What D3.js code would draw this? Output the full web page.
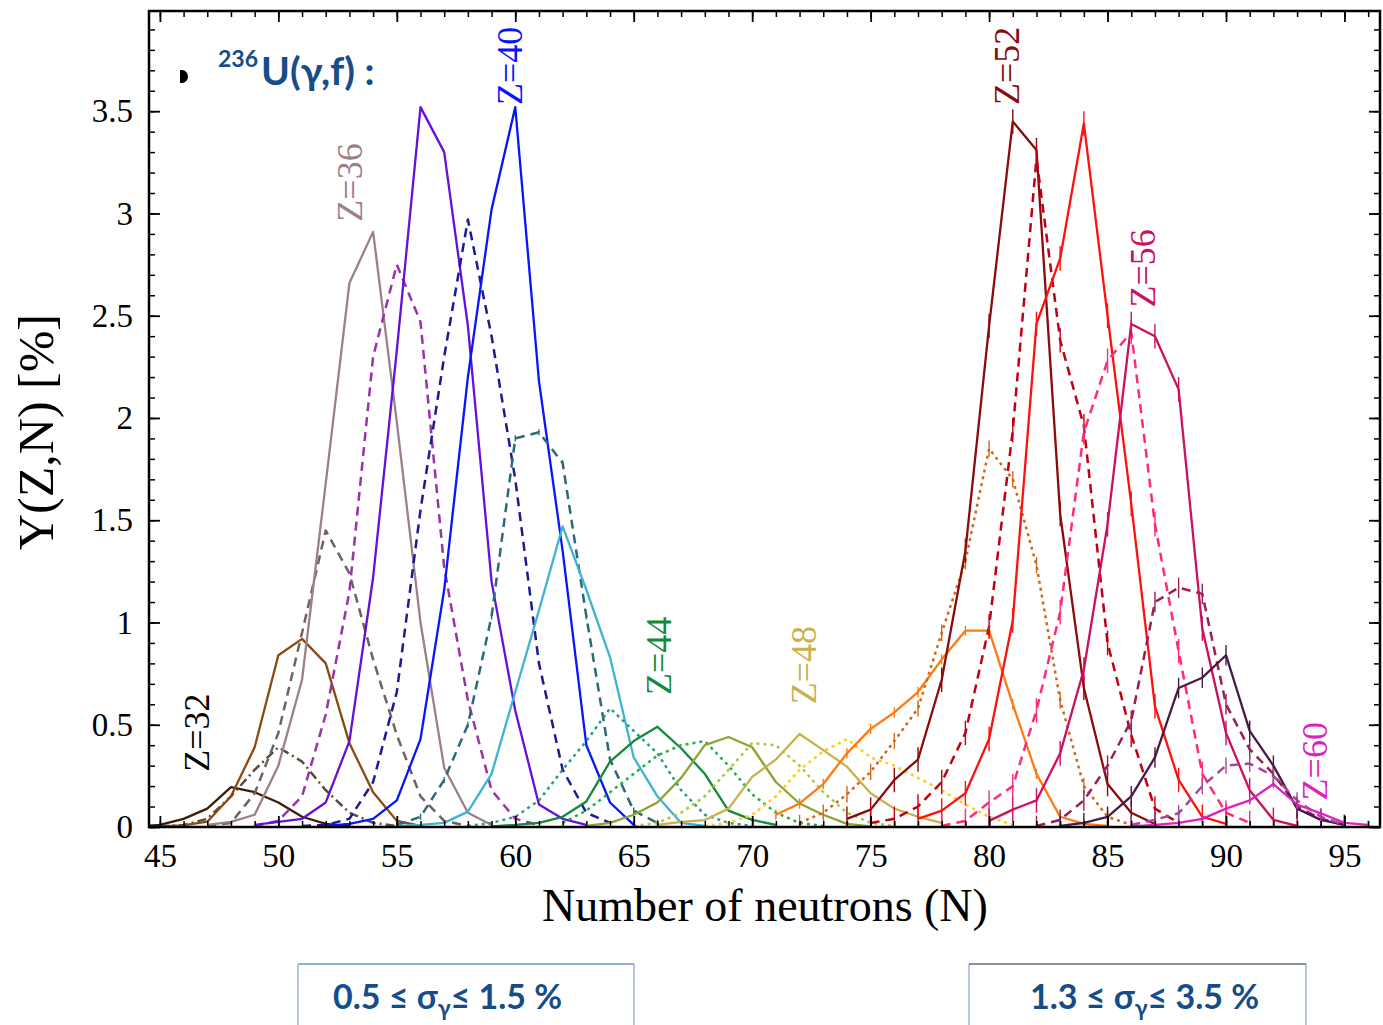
<!DOCTYPE html>
<html>
<head>
<meta charset="utf-8">
<script src="https://cdn.jsdelivr.net/npm/d3@7"></script>
<style>
  html, body { margin: 0; padding: 0; background: #fff; }
  svg { display: block; }
</style>
</head>
<body>
<svg id="chart" width="1383" height="1025"></svg>
<script>
// Isotopic fission yields Y(Z,N) in %, one chain per element.
// Each array starts at the neutron number listed in firstN.
const charges = [32, 33, 34, 35, 36, 37, 38, 39, 40, 41, 42, 43, 44, 45, 46,
                 47, 48, 49, 50, 51, 52, 53, 54, 55, 56, 57, 58, 59, 60];
const firstN  = [44, 45, 45, 47, 47, 49, 49, 51, 52, 55, 55, 58, 59, 62, 63,
                 65, 66, 68, 71, 72, 74, 75, 77, 78, 80, 82, 83, 86, 86];

const Y32 = [0.003, 0.01, 0.04, 0.09, 0.195, 0.17, 0.12, 0.05, 0.015, 0.004];
const Y33 = [0.003, 0.01, 0.04, 0.15, 0.28, 0.39, 0.32, 0.18, 0.07, 0.02, 0.005];
const Y34 = [0.003, 0.008, 0.026, 0.15, 0.39, 0.84, 0.92, 0.8, 0.41, 0.17, 0.03, 0.005];
const Y35 = [0.005, 0.02, 0.165, 0.46, 0.95, 1.45, 1.24, 0.82, 0.45, 0.15, 0.03, 0.005];
const Y36 = [0.01, 0.025, 0.06, 0.3, 0.72, 1.68, 2.66, 2.91, 1.98, 1.0, 0.29, 0.07, 0.01];
const Y37 = [0.005, 0.03, 0.15, 0.55, 1.15, 2.3, 2.75, 2.47, 1.27, 0.62, 0.18, 0.04, 0.01];
const Y38 = [0.01, 0.025, 0.04, 0.12, 0.42, 1.22, 2.33, 3.52, 3.3, 2.45, 1.2, 0.57, 0.11, 0.04, 0.01];
const Y39 = [0.005, 0.01, 0.04, 0.22, 0.66, 1.55, 2.3, 2.97, 2.4, 1.7, 0.8, 0.28, 0.07, 0.02];
const Y40 = [0.005, 0.015, 0.04, 0.13, 0.43, 1.16, 2.2, 3.02, 3.52, 2.18, 1.35, 0.4, 0.12, 0.01];
const Y41 = [0.01, 0.05, 0.23, 0.5, 1.03, 1.9, 1.93, 1.78, 1.03, 0.33, 0.08, 0.02];
const Y42 = [0.005, 0.01, 0.02, 0.075, 0.26, 0.66, 1.06, 1.47, 1.16, 0.83, 0.34, 0.15, 0.02, 0.005];
const Y43 = [0.005, 0.02, 0.05, 0.13, 0.28, 0.42, 0.58, 0.47, 0.36, 0.18, 0.06, 0.02, 0.005];
const Y44 = [0.003, 0.01, 0.02, 0.05, 0.125, 0.32, 0.42, 0.49, 0.385, 0.26, 0.08, 0.035, 0.01];
const Y45 = [0.02, 0.08, 0.17, 0.26, 0.35, 0.4, 0.42, 0.3, 0.16, 0.07, 0.02, 0.005];
const Y46 = [0.005, 0.02, 0.06, 0.12, 0.24, 0.4, 0.44, 0.39, 0.22, 0.115, 0.06, 0.015, 0.003];
const Y47 = [0.005, 0.02, 0.07, 0.15, 0.28, 0.41, 0.4, 0.3, 0.17, 0.07, 0.02, 0.005];
const Y48 = [0.01, 0.025, 0.034, 0.09, 0.245, 0.33, 0.455, 0.376, 0.295, 0.165, 0.09, 0.05, 0.02];
const Y49 = [0.005, 0.02, 0.06, 0.15, 0.28, 0.37, 0.43, 0.34, 0.3, 0.24, 0.18, 0.11, 0.05, 0.01];
const Y50 = [0.06, 0.115, 0.21, 0.36, 0.48, 0.56, 0.66, 0.82, 0.96, 0.96, 0.6, 0.26, 0.05, 0.015, 0.005];
const Y51 = [0.02, 0.07, 0.16, 0.27, 0.42, 0.58, 0.95, 1.3, 1.85, 1.7, 1.28, 0.62, 0.2, 0.05, 0.01];
const Y52 = [0.04, 0.085, 0.23, 0.33, 0.72, 1.35, 2.45, 3.45, 3.31, 1.53, 0.68, 0.21, 0.07, 0.015];
const Y53 = [0.02, 0.04, 0.1, 0.22, 0.46, 0.98, 1.94, 3.27, 2.38, 1.96, 0.9, 0.45, 0.09, 0.02];
const Y54 = [0.04, 0.08, 0.165, 0.43, 1.01, 2.46, 2.78, 3.44, 2.5, 1.58, 0.59, 0.23, 0.05, 0.015];
const Y55 = [0.005, 0.03, 0.12, 0.2, 0.57, 1.05, 1.93, 2.28, 2.42, 1.48, 0.86, 0.26, 0.07, 0.02];
const Y56 = [0.03, 0.085, 0.13, 0.36, 0.77, 1.48, 2.46, 2.4, 2.14, 0.97, 0.46, 0.18, 0.035, 0.005];
const Y57 = [0.005, 0.035, 0.13, 0.3, 0.52, 1.1, 1.17, 1.14, 0.6, 0.38, 0.26, 0.1, 0.04, 0.01];
const Y58 = [0.005, 0.02, 0.05, 0.15, 0.34, 0.68, 0.73, 0.84, 0.47, 0.3, 0.09, 0.035, 0.01];
const Y59 = [0.01, 0.035, 0.067, 0.2, 0.3, 0.31, 0.25, 0.13, 0.05, 0.01];
const Y60 = [0.003, 0.01, 0.02, 0.04, 0.09, 0.13, 0.21, 0.11, 0.067, 0.02, 0.01];

const yields = [Y32, Y33, Y34, Y35, Y36, Y37, Y38, Y39, Y40, Y41, Y42, Y43, Y44, Y45, Y46,
                Y47, Y48, Y49, Y50, Y51, Y52, Y53, Y54, Y55, Y56, Y57, Y58, Y59, Y60];

// Half-width of the uncertainty bar on each measured point (in %), per chain
const errorZ    = [41, 50, 51, 52, 53, 54, 55, 56, 57, 58, 59, 60];
const errorHalf = [0.015, 0.025, 0.04, 0.06, 0.06, 0.06, 0.06, 0.06, 0.05, 0.05, 0.04, 0.02];

const xMajorTicks = [45, 50, 55, 60, 65, 70, 75, 80, 85, 90, 95];
const yMajorTicks = [0, 0.5, 1, 1.5, 2, 2.5, 3, 3.5];
const yTickText   = ["0", "0.5", "1", "1.5", "2", "2.5", "3", "3.5"];

// Elements whose chains carry a "Z=.." tag
const taggedZ = [32, 36, 40, 44, 48, 52, 56, 60];

// Line colour and stroke pattern for each chain
const lineColors = {
  32: "#3b1e08", 33: "#5c4b3d", 34: "#8b4a10", 35: "#6e6262", 36: "#9c8088",
  37: "#9b32aa", 38: "#6510d8", 39: "#1b1b98", 40: "#0814ff", 41: "#2b6a78",
  42: "#40b2d2", 43: "#2a9c84", 44: "#148a3a", 45: "#20b04a", 46: "#8fa332",
  47: "#a9c83c", 48: "#c9b24c", 49: "#ffcc1a", 50: "#ff7a10", 51: "#cc6a1a",
  52: "#8b0a0a", 53: "#c00012", 54: "#ff1010", 55: "#ff2a7a", 56: "#cc1060",
  57: "#991f55", 58: "#4a1a46", 59: "#a04a9a", 60: "#e020c0"
};
const tagColors = { 32: "#000000" };
const dashFor = z => {
  if (z === 33) return "9,4,2,4";
  if ([43, 45, 47, 49, 51].includes(z)) return "3,4";
  if (z % 2 === 1) return "9,6";
  return null;
};

// ---------------------------------------------------------------------------
const svg = d3.select("#chart");
const W = 1383, H = 1025;
const plot = { left: 149, right: 1380, top: 11, bottom: 827 };

const x = d3.scaleLinear().domain([44.54, 96.5]).range([plot.left, plot.right]);
const y = d3.scaleLinear().domain([0, 3.99]).range([plot.bottom, plot.top]);

svg.append("rect").attr("width", W).attr("height", H).attr("fill", "#fff");

svg.append("defs").append("clipPath").attr("id", "plotClip")
  .append("rect")
  .attr("x", plot.left).attr("y", plot.top)
  .attr("width", plot.right - plot.left).attr("height", plot.bottom - plot.top);

const serif = "'Liberation Serif', 'DejaVu Serif', serif";

// Chains
const series = charges.map((z, i) => ({
  z,
  points: yields[i].map((v, k) => ({ n: firstN[i] + k, v }))
}));

const line = d3.line().x(d => x(d.n)).y(d => y(d.v));

const curves = svg.append("g").attr("clip-path", "url(#plotClip)");
curves.selectAll("path.chain")
  .data(series)
  .join("path")
  .attr("class", "chain")
  .attr("d", d => line(d.points))
  .attr("fill", "none")
  .attr("stroke", d => lineColors[d.z])
  .attr("stroke-width", d => (d.z % 2 === 1 ? 2.5 : 2.3))
  .attr("stroke-dasharray", d => dashFor(d.z))
  .attr("stroke-linejoin", "round");

// Uncertainty bars
const barData = [];
series.forEach(s => {
  const j = errorZ.indexOf(s.z);
  if (j < 0) return;
  s.points.forEach(p => barData.push({ z: s.z, n: p.n, v: p.v, e: errorHalf[j] }));
});
curves.selectAll("line.err")
  .data(barData)
  .join("line")
  .attr("class", "err")
  .attr("x1", d => x(d.n)).attr("x2", d => x(d.n))
  .attr("y1", d => y(d.v + d.e)).attr("y2", d => y(Math.max(0, d.v - d.e)))
  .attr("stroke", d => lineColors[d.z])
  .attr("stroke-width", 1.4);

// Axes: ticks drawn inward on all four sides
const tickFont = g => g.selectAll("text")
  .attr("font-family", serif).attr("font-size", 33).attr("fill", "#000");
const cleanDomain = g => g.select(".domain").remove();

const minorX = d3.range(45, 97);
const minorY = d3.range(0, 40).map(i => i / 10);

svg.append("g").attr("transform", `translate(0,${plot.bottom})`)
  .call(d3.axisBottom(x).tickValues(minorX).tickSize(-6).tickFormat(""))
  .call(cleanDomain).call(g => g.selectAll("line").attr("stroke-width", 1.5));
svg.append("g").attr("transform", `translate(0,${plot.bottom})`)
  .call(d3.axisBottom(x).tickValues(xMajorTicks).tickSize(-11).tickPadding(17).tickFormat(d3.format("d")))
  .call(cleanDomain).call(tickFont).call(g => g.selectAll("line").attr("stroke-width", 1.8));

svg.append("g").attr("transform", `translate(0,${plot.top})`)
  .call(d3.axisTop(x).tickValues(minorX).tickSize(-6).tickFormat(""))
  .call(cleanDomain).call(g => g.selectAll("line").attr("stroke-width", 1.5));
svg.append("g").attr("transform", `translate(0,${plot.top})`)
  .call(d3.axisTop(x).tickValues(xMajorTicks).tickSize(-11).tickFormat(""))
  .call(cleanDomain).call(g => g.selectAll("line").attr("stroke-width", 1.8));

svg.append("g").attr("transform", `translate(${plot.left},0)`)
  .call(d3.axisLeft(y).tickValues(minorY).tickSize(-6).tickFormat(""))
  .call(cleanDomain).call(g => g.selectAll("line").attr("stroke-width", 1.5));
svg.append("g").attr("transform", `translate(${plot.left},0)`)
  .call(d3.axisLeft(y).tickValues(yMajorTicks).tickSize(-11).tickPadding(16)
        .tickFormat((d, i) => yTickText[i]))
  .call(cleanDomain).call(tickFont).call(g => g.selectAll("line").attr("stroke-width", 1.8));

svg.append("g").attr("transform", `translate(${plot.right},0)`)
  .call(d3.axisRight(y).tickValues(minorY).tickSize(-6).tickFormat(""))
  .call(cleanDomain).call(g => g.selectAll("line").attr("stroke-width", 1.5));
svg.append("g").attr("transform", `translate(${plot.right},0)`)
  .call(d3.axisRight(y).tickValues(yMajorTicks).tickSize(-11).tickFormat(""))
  .call(cleanDomain).call(g => g.selectAll("line").attr("stroke-width", 1.8));

// Frame
svg.append("rect")
  .attr("x", plot.left).attr("y", plot.top)
  .attr("width", plot.right - plot.left).attr("height", plot.bottom - plot.top)
  .attr("fill", "none").attr("stroke", "#000").attr("stroke-width", 2.5);

// Axis titles
svg.append("text")
  .attr("x", 765).attr("y", 921)
  .attr("text-anchor", "middle")
  .attr("font-family", serif).attr("font-size", 46)
  .text("Number of neutrons (N)");

svg.append("text")
  .attr("transform", "translate(53,432) rotate(-90)")
  .attr("text-anchor", "middle")
  .attr("font-family", serif).attr("font-size", 50)
  .text("Y(Z,N) [%]");

// Element tags, placed just above the top of each tagged chain
const tagAnchor = {
  32: [46.56, 0.27], 36: [53.02, 2.96], 40: [59.77, 3.53], 44: [66.06, 0.645],
  48: [72.18, 0.6], 52: [80.75, 3.53], 56: [86.5, 2.54], 60: [93.76, 0.13]
};
const tagSize = 36;
svg.append("g").selectAll("text")
  .data(taggedZ)
  .join("text")
  .attr("transform", z => `translate(${x(tagAnchor[z][0]) + tagSize * 0.33},${y(tagAnchor[z][1])}) rotate(-90)`)
  .attr("font-family", serif).attr("font-size", tagSize)
  .attr("fill", z => tagColors[z] || lineColors[z])
  .text(z => `Z=${z}`);

// Reaction heading
const heading = svg.append("g");
heading.append("path")
  .attr("d", "M180,70 L182,70 A6,6.5 0 0 1 182,83 L180,83 Z")
  .attr("fill", "#000");
const headText = heading.append("text")
  .attr("x", 218).attr("y", 85)
  .attr("font-family", "Lato, 'Open Sans', sans-serif")
  .attr("font-weight", "bold").attr("fill", "#164d88");
headText.append("tspan").attr("font-size", 23).attr("dy", -18).text("236");
headText.append("tspan").attr("font-size", 39).attr("dy", 18).attr("dx", 3).text("U(γ,f) :");

// Uncertainty ranges below the axis
const boxes = [
  { x0: 298, x1: 634, tx: 333, top: "#8fb0dc", lo: "0.5 ≤ σ", hi: "≤ 1.5 %" },
  { x0: 969, x1: 1306, tx: 1030, top: "#8b9098", lo: "1.3 ≤ σ", hi: "≤ 3.5 %" }
];
const boxG = svg.append("g").selectAll("g").data(boxes).join("g");
boxG.append("path")
  .attr("d", d => `M${d.x0},1030 L${d.x0},964 L${d.x1},964 L${d.x1},1030`)
  .attr("fill", "#fff").attr("stroke", "#6f8fc0").attr("stroke-width", 1);
boxG.append("line")
  .attr("x1", d => d.x0).attr("x2", d => d.x1).attr("y1", 964).attr("y2", 964)
  .attr("stroke", d => d.top).attr("stroke-width", 2);
const boxText = boxG.append("text")
  .attr("x", d => d.tx).attr("y", 1009)
  .attr("font-family", "Lato, 'Open Sans', sans-serif")
  .attr("font-weight", "bold").attr("font-size", 34).attr("fill", "#164d88");
boxText.append("tspan").text(d => d.lo);
boxText.append("tspan").attr("font-size", 23).attr("dy", 7).text("γ");
boxText.append("tspan").attr("dy", -7).text(d => d.hi);
</script>
</body>
</html>
